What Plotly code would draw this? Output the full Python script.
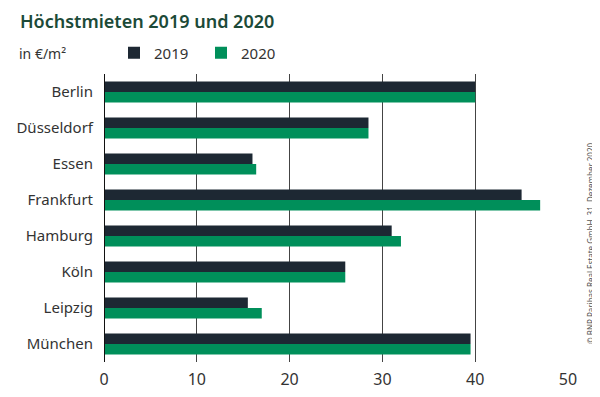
import plotly.graph_objects as go

cities = ["Berlin", "Düsseldorf", "Essen", "Frankfurt", "Hamburg", "Köln", "Leipzig", "München"]
v2019 = [40, 28.5, 16.0, 45.0, 31.0, 26.0, 15.5, 39.5]
v2020 = [40, 28.5, 16.4, 47.0, 32.0, 26.0, 17.0, 39.5]
ticks = [0, 10, 20, 30, 40, 50]

DARK = "#1d2833"
GREEN = "#008f5a"

# the page body adds an 8px offset, so the figure is 8px smaller than the window
W, H = 592, 389

fig = go.Figure()
fig.add_trace(go.Bar(y=cities, x=v2019, name="2019", orientation="h", marker_color=DARK,
                     marker_line_width=0))
fig.add_trace(go.Bar(y=cities, x=v2020, name="2020", orientation="h", marker_color=GREEN,
                     marker_line_width=0))

fig.update_layout(
    width=W, height=H,
    margin=dict(l=96, r=32, t=66, b=35, autoexpand=False),
    paper_bgcolor="white", plot_bgcolor="white",
    barmode="group", bargap=0.42, bargroupgap=0,
    font=dict(family="Noto Sans", color="#333333", size=14),
    showlegend=True,
    legend=dict(orientation="h", x=(114 - 8) / W, y=1 - (53 - 8) / H, xanchor="left",
                yanchor="middle", xref="container", yref="container",
                font=dict(size=15, color="#333333"),
                traceorder="normal", entrywidth=42, itemwidth=30, bgcolor="rgba(0,0,0,0)"),
    xaxis=dict(range=[0, 50], tickvals=ticks, ticktext=[str(t) for t in ticks],
               showgrid=True, gridcolor="#444444", gridwidth=1, zeroline=False,
               showline=False, ticks="", ticklabelstandoff=6,
               tickfont=dict(size=16, color="#333333")),
    yaxis=dict(autorange="reversed", showgrid=False, zeroline=False,
               showline=False, ticks="", ticklabelstandoff=10,
               tickfont=dict(size=15, color="#333333")),
    shapes=[dict(type="line", xref="x", yref="paper", x0=0, x1=0, y0=0, y1=1,
                 line=dict(color="#111111", width=2))],
    annotations=[
        dict(text="Höchstmieten 2019 und 2020", xref="paper", yref="paper",
             x=0, y=1, xanchor="left", yanchor="middle",
             font=dict(family="Noto Sans", size=18, color="#1c4a38", weight=600), showarrow=False,
             xshift=-86, yshift=53),
        dict(text="in €/m²", xref="paper", yref="paper", x=0, y=1,
             xanchor="left", yanchor="middle", showarrow=False,
             font=dict(size=14, color="#333333"), xshift=-87, yshift=21),
        dict(text="© BNP Paribas Real Estate GmbH, 31. Dezember 2020", xref="paper", yref="paper",
             x=1, y=0.5, xanchor="center", yanchor="middle", textangle=-90, showarrow=False,
             font=dict(family="Liberation Sans Narrow, Noto Sans", size=8, color="#555555"),
             xshift=22, yshift=-25),
    ],
)

fig.write_html("out.html")
